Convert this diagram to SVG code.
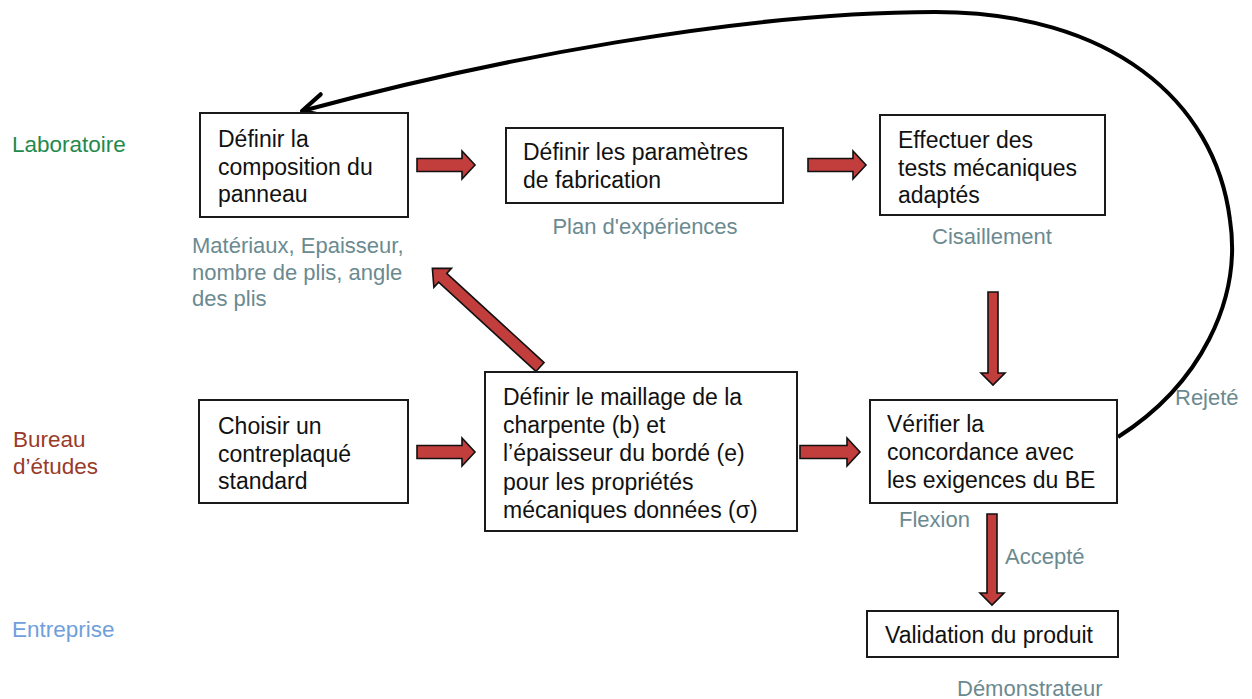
<svg xmlns="http://www.w3.org/2000/svg" width="1252" height="699" viewBox="0 0 1252 699">
<defs>
<style>
.box{fill:#fff;stroke:#1a1a1a;stroke-width:2}
.t{font-family:"Liberation Sans",Arial,sans-serif;font-size:23px;fill:#111}
.lbl{font-family:"Liberation Sans",Arial,sans-serif;font-size:22px;fill:#6b8a90}
.lane{font-family:"Liberation Sans",Arial,sans-serif;font-size:22.5px}
.blk{fill:#c23e3c;stroke:#111;stroke-width:1.6;stroke-linejoin:miter}
.curve{fill:none;stroke:#000;stroke-width:4}
</style>
<marker id="open" viewBox="0 0 20 20" refX="17" refY="10" markerWidth="8" markerHeight="8" markerUnits="strokeWidth" orient="auto">
<path d="M3,3 L17,10 L3,17" fill="none" stroke="#000" stroke-width="2.6" stroke-linecap="round" stroke-linejoin="round"/>
</marker>
</defs>
<rect width="1252" height="699" fill="#fff"/>

<g id="lanes">
<text class="lane" x="12" y="152" fill="#1f8a4c">Laboratoire</text>
<text class="lane" x="13" y="447" fill="#9a3a2a">Bureau</text>
<text class="lane" x="13" y="474" fill="#9a3a2a">d’études</text>
<text class="lane" x="12" y="637" fill="#6fa0dc">Entreprise</text>
</g>

<g id="connectors">
<path class="curve" d="M1118,437 C1200,385 1242,300 1230,220 C1215,100 1110,12 935,12 C740,12 490,60 302,111" marker-end="url(#open)"/>
<path class="blk" d="M417,158.5 H462 V151 L475,165 L462,179 V171.5 H417 Z"/>
<path class="blk" d="M808,158.5 H853 V151 L866,165 L853,179 V171.5 H808 Z"/>
<path class="blk" d="M417,445.5 H462 V438 L475,452 L462,466 V458.5 H417 Z"/>
<path class="blk" d="M800,445.5 H847 V438 L860,452 L847,466 V458.5 H800 Z"/>
<path class="blk" d="M988,292 H998 V373 H1005 L993,385 L981,373 H988 Z"/>
<path class="blk" d="M987,514 H997 V593 H1004 L992,605 L980,593 H987 Z"/>
<path class="blk" transform="translate(540,367) rotate(222.5)" d="M0,-6 H132 V-13 L146,0 L132,13 V6 H0 Z"/>
</g>

<g id="n1">
<rect class="box" x="200" y="113" width="208" height="104"/>
<text class="t" x="218" y="147">Définir la</text>
<text class="t" x="218" y="175">composition du</text>
<text class="t" x="218" y="202">panneau</text>
</g>
<g id="n1-label">
<text class="lbl" x="192" y="253" font-size="23">Matériaux, Epaisseur,</text>
<text class="lbl" x="192" y="280" font-size="23">nombre de plis, angle</text>
<text class="lbl" x="192" y="306" font-size="23">des plis</text>
</g>

<g id="n2">
<rect class="box" x="506" y="128" width="277" height="75"/>
<text class="t" x="523" y="160">Définir les paramètres</text>
<text class="t" x="523" y="188">de fabrication</text>
</g>
<text class="lbl" x="645" y="234" text-anchor="middle">Plan d'expériences</text>

<g id="n3">
<rect class="box" x="880" y="115" width="225" height="100"/>
<text class="t" x="898" y="148">Effectuer des</text>
<text class="t" x="898" y="176">tests mécaniques</text>
<text class="t" x="898" y="203">adaptés</text>
</g>
<text class="lbl" x="992" y="244" text-anchor="middle">Cisaillement</text>

<g id="n4">
<rect class="box" x="199" y="400" width="209" height="103"/>
<text class="t" x="218" y="434">Choisir un</text>
<text class="t" x="218" y="462">contreplaqué</text>
<text class="t" x="218" y="489">standard</text>
</g>

<g id="n5">
<rect class="box" x="485" y="372" width="312" height="159"/>
<text class="t" x="503" y="405">Définir le maillage de la</text>
<text class="t" x="503" y="433">charpente (b) et</text>
<text class="t" x="503" y="461">l’épaisseur du bordé (e)</text>
<text class="t" x="503" y="490">pour les propriétés</text>
<text class="t" x="503" y="518">mécaniques données (σ)</text>
</g>

<g id="n6">
<rect class="box" x="870" y="400" width="247" height="103"/>
<text class="t" x="887" y="432">Vérifier la</text>
<text class="t" x="887" y="460">concordance avec</text>
<text class="t" x="887" y="488">les exigences du BE</text>
</g>
<text class="lbl" x="899" y="527">Flexion</text>
<text class="lbl" x="1175" y="405">Rejeté</text>
<text class="lbl" x="1005" y="564">Accepté</text>

<g id="n7">
<rect class="box" x="867" y="611" width="251" height="46"/>
<text class="t" x="885" y="643">Validation du produit</text>
</g>
<text class="lbl" x="957" y="696">Démonstrateur</text>
</svg>
